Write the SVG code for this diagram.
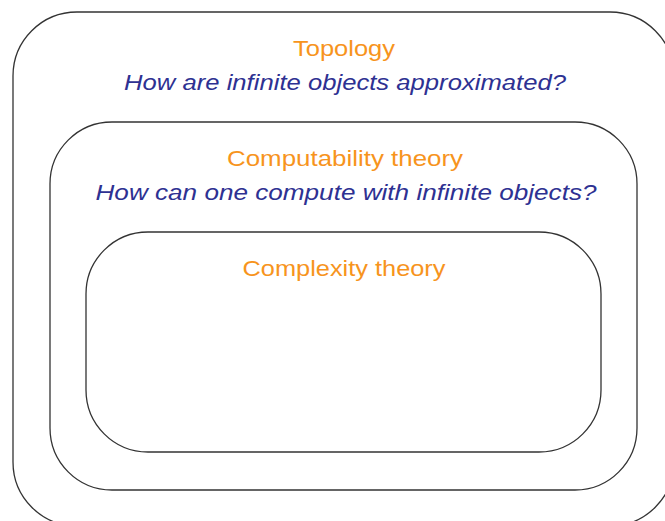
<svg xmlns="http://www.w3.org/2000/svg" width="665" height="521" viewBox="0 0 665 521">
<style>
.box{fill:none;stroke:#333333;stroke-width:1.3}
.title{font-family:"Liberation Sans","DejaVu Sans",sans-serif;font-size:22.5px;fill:#f7941d;text-anchor:middle}
.q{font-family:"Liberation Sans","DejaVu Sans",sans-serif;font-size:22.5px;font-style:italic;fill:#2e3192;text-anchor:middle}
</style>
<rect width="665" height="521" fill="#ffffff"/>
<g id="topology">
<rect class="box" x="13" y="12" width="661" height="514" rx="64" ry="64"/>
<text class="title" x="344" y="56" textLength="102" lengthAdjust="spacingAndGlyphs">Topology</text>
<text class="q" x="345" y="90" textLength="442" lengthAdjust="spacingAndGlyphs">How are infinite objects approximated?</text>
</g>
<g id="computability">
<rect class="box" x="50" y="122" width="587" height="368" rx="62" ry="62"/>
<text class="title" x="345" y="166" textLength="236" lengthAdjust="spacingAndGlyphs">Computability theory</text>
<text class="q" x="346" y="200" textLength="501" lengthAdjust="spacingAndGlyphs">How can one compute with infinite objects?</text>
</g>
<g id="complexity">
<rect class="box" x="86" y="232" width="515" height="220" rx="62" ry="62"/>
<text class="title" x="344" y="276" textLength="203" lengthAdjust="spacingAndGlyphs">Complexity theory</text>
</g>
<g id="connectors"/>
</svg>
